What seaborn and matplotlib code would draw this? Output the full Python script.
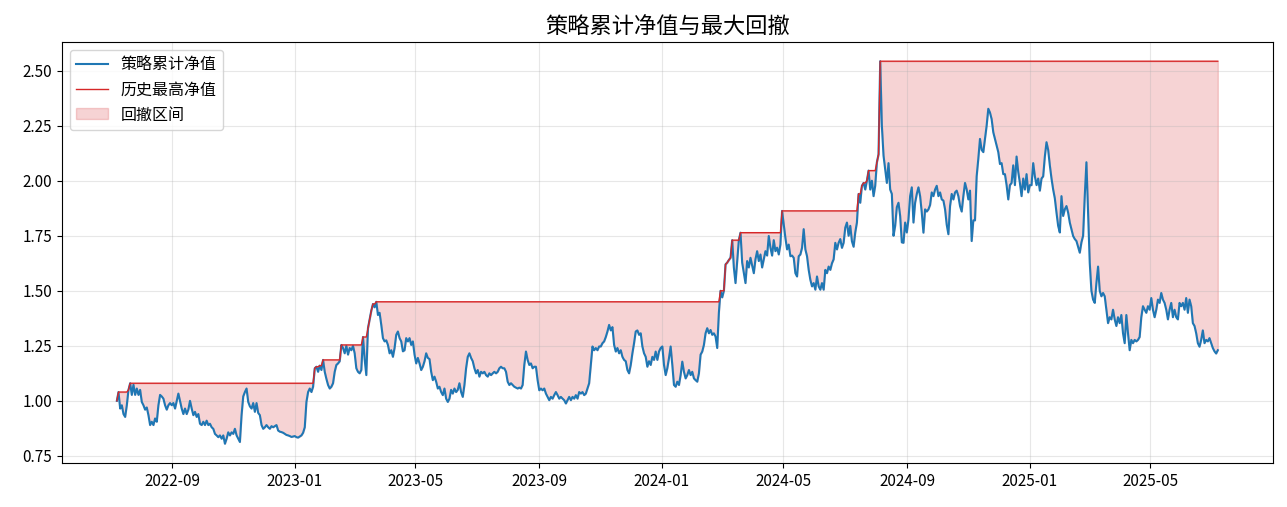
import matplotlib
matplotlib.use("Agg")
import matplotlib.pyplot as plt
import matplotlib.dates as mdates
import numpy as np
import pandas as pd
import seaborn as sns

# ---------------------------------------------------------------------
# Data: strategy NAV, one sample every ~39.7 hours
start_date = "2022-07-08"
step_hours = 39.7

nav_2022 = [
    1.00, 1.04, 0.965, 0.98, 0.94, 0.927, 0.98, 1.05, 1.08, 1.027,
    1.073, 1.027, 1.056, 1.027, 1.05, 0.995, 0.98, 0.96, 0.97, 0.935,
    0.89, 0.905, 0.89, 0.92, 0.905, 0.98, 1.027, 1.02, 1.01, 0.98,
    0.96, 0.98, 0.99, 0.98, 0.99, 0.965, 1.00, 1.033, 1.00, 0.965,
    0.94, 0.965, 0.94, 0.96, 1.00, 0.965, 0.935, 0.95, 0.927, 0.94,
    0.896, 0.89, 0.905, 0.89, 0.91, 0.89, 0.896, 0.88, 0.873, 0.85,
    0.843, 0.835, 0.843, 0.828, 0.843, 0.805, 0.828, 0.857, 0.843, 0.857,
    0.85, 0.873, 0.843, 0.828, 0.813, 0.935, 1.02, 1.04, 1.056, 0.995,
    0.975, 0.965, 0.99, 0.95, 0.99, 0.945, 0.935, 0.89, 0.873, 0.88,
    0.89, 0.88, 0.873, 0.885, 0.88, 0.885, 0.89, 0.865, 0.86, 0.858,
    0.855, 0.85, 0.845, 0.843, 0.84, 0.836, 0.838, 0.84,
]

nav_2023 = [
    0.835, 0.833, 0.838, 0.843, 0.855, 0.88, 0.995, 1.04, 1.056, 1.04,
    1.064, 1.148, 1.155, 1.132, 1.16, 1.14, 1.186, 1.132, 1.10, 1.072,
    1.056, 1.064, 1.08, 1.132, 1.163, 1.17, 1.18, 1.254, 1.24, 1.216,
    1.25, 1.21, 1.24, 1.23, 1.25, 1.216, 1.148, 1.132, 1.125, 1.14,
    1.29, 1.19, 1.117, 1.33, 1.37, 1.41, 1.44, 1.425, 1.45, 1.39,
    1.40, 1.345, 1.285, 1.27, 1.275, 1.254, 1.216, 1.23, 1.20, 1.24,
    1.30, 1.315, 1.285, 1.27, 1.225, 1.23, 1.285, 1.27, 1.285, 1.254,
    1.27, 1.21, 1.17, 1.195, 1.17, 1.14, 1.155, 1.18, 1.216, 1.195,
    1.19, 1.132, 1.094, 1.11, 1.087, 1.056, 1.064, 1.04, 1.026, 1.056,
    1.01, 0.995, 1.01, 1.05, 1.033, 1.056, 1.04, 1.05, 1.08, 1.04,
    1.018, 1.072, 1.148, 1.20, 1.216, 1.195, 1.18, 1.148, 1.125, 1.14,
    1.11, 1.132, 1.125, 1.132, 1.117, 1.11, 1.125, 1.117, 1.125, 1.132,
    1.125, 1.132, 1.148, 1.155, 1.148, 1.148, 1.132, 1.087, 1.072, 1.08,
    1.072, 1.064, 1.06, 1.056, 1.06, 1.056, 1.072, 1.163, 1.224, 1.186,
    1.163, 1.17, 1.148, 1.155, 1.155, 1.094, 1.048, 1.056, 1.048, 1.056,
    1.033, 1.018, 1.003, 1.018, 1.01, 1.026, 1.04, 1.026, 1.01, 1.018,
    1.01, 1.003, 0.988, 1.003, 1.018, 1.003, 1.018, 1.01, 1.026, 1.01,
    1.04, 1.033, 1.04, 1.026, 1.033, 1.056, 1.08, 1.163, 1.247, 1.23,
    1.24, 1.23, 1.247, 1.247, 1.262, 1.27, 1.29, 1.315, 1.345, 1.32,
    1.335, 1.254, 1.224, 1.24, 1.216, 1.23, 1.20, 1.186, 1.18, 1.14,
    1.125, 1.163, 1.216, 1.262, 1.315, 1.32, 1.30, 1.307, 1.247, 1.216,
    1.20, 1.155, 1.18, 1.163, 1.20, 1.186, 1.224, 1.186, 1.224, 1.24,
]

nav_2024 = [
    1.247, 1.163, 1.117, 1.148, 1.194, 1.247, 1.163, 1.072, 1.064, 1.087,
    1.072, 1.117, 1.178, 1.132, 1.102, 1.117, 1.14, 1.117, 1.132, 1.102,
    1.094, 1.087, 1.125, 1.21, 1.224, 1.254, 1.307, 1.33, 1.307, 1.322,
    1.30, 1.307, 1.292, 1.24, 1.40, 1.50, 1.47, 1.50, 1.62, 1.628,
    1.64, 1.65, 1.73, 1.606, 1.535, 1.635, 1.73, 1.764, 1.628, 1.58,
    1.535, 1.635, 1.606, 1.65, 1.614, 1.58, 1.643, 1.68, 1.635, 1.665,
    1.606, 1.643, 1.68, 1.66, 1.749, 1.696, 1.66, 1.73, 1.68, 1.696,
    1.665, 1.71, 1.863, 1.80, 1.74, 1.688, 1.71, 1.657, 1.66, 1.65,
    1.58, 1.565, 1.657, 1.665, 1.695, 1.78, 1.688, 1.657, 1.595, 1.55,
    1.52, 1.535, 1.505, 1.565, 1.52, 1.505, 1.535, 1.505, 1.595, 1.58,
    1.61, 1.595, 1.625, 1.643, 1.718, 1.688, 1.718, 1.735, 1.695, 1.718,
    1.787, 1.81, 1.75, 1.795, 1.725, 1.70, 1.765, 1.81, 1.94, 1.90,
    1.977, 1.99, 1.96, 2.00, 2.046, 1.96, 2.00, 1.93, 1.977, 2.084,
    2.12, 2.543, 2.25, 2.114, 2.05, 1.99, 2.08, 1.96, 1.94, 1.75,
    1.795, 1.88, 1.90, 1.84, 1.72, 1.718, 1.81, 1.765, 1.825, 1.93,
    1.97, 1.81, 1.90, 1.94, 1.97, 1.93, 1.855, 1.764, 1.87, 1.86,
    1.87, 1.89, 1.947, 1.93, 1.96, 1.977, 1.93, 1.947, 1.915, 1.91,
    1.87, 1.80, 1.757, 1.885, 1.94, 1.915, 1.947, 1.955, 1.93, 1.885,
    1.86, 1.93, 1.99, 1.96, 1.915, 1.955, 1.726, 1.82, 1.82, 2.02,
    2.10, 2.19, 2.14, 2.13, 2.19, 2.25, 2.327, 2.31, 2.28, 2.22,
    2.19, 2.16, 2.13, 2.076, 2.08, 2.03, 2.03, 1.98, 1.915, 1.98,
    1.99, 2.07, 1.98, 2.11, 2.04, 1.99, 1.93, 2.01, 1.96, 2.03,
    1.947, 1.98,
]

nav_2025 = [
    1.98, 2.08, 2.02, 1.98, 2.01, 1.955, 2.01, 2.02, 2.11, 2.175,
    2.14, 2.07, 2.01, 1.96, 1.92, 1.855, 1.795, 1.765, 1.93, 1.84,
    1.87, 1.885, 1.855, 1.81, 1.78, 1.749, 1.735, 1.726, 1.70, 1.673,
    1.72, 1.75, 1.93, 2.084, 1.85, 1.627, 1.50, 1.46, 1.445, 1.535,
    1.61, 1.50, 1.475, 1.49, 1.475, 1.414, 1.353, 1.38, 1.37, 1.414,
    1.37, 1.34, 1.38, 1.353, 1.39, 1.307, 1.262, 1.39, 1.307, 1.23,
    1.277, 1.262, 1.277, 1.27, 1.277, 1.29, 1.38, 1.43, 1.414, 1.40,
    1.43, 1.414, 1.467, 1.414, 1.38, 1.414, 1.46, 1.445, 1.49, 1.46,
    1.445, 1.414, 1.37, 1.414, 1.445, 1.38, 1.414, 1.38, 1.37, 1.445,
    1.43, 1.445, 1.414, 1.467, 1.40, 1.46, 1.43, 1.353, 1.34, 1.307,
    1.262, 1.246, 1.277, 1.32, 1.262, 1.277, 1.27, 1.285, 1.262, 1.24,
    1.225, 1.215, 1.23,
]

# ---------------------------------------------------------------------
# Build the frame: NAV, running peak (historical high)
nav = nav_2022 + nav_2023 + nav_2024 + nav_2025
df = pd.DataFrame({"净值": nav})
df["时间"] = pd.Timestamp(start_date) + pd.to_timedelta(np.arange(len(nav)) * step_hours, unit="h")
df["历史最高"] = df["净值"].cummax()

plt.rcParams["font.family"] = ["Noto Sans CJK SC", "DejaVu Sans"]
plt.rcParams["axes.unicode_minus"] = False

fig, ax = plt.subplots(figsize=(12.87, 5.07), dpi=100)
fig.subplots_adjust(left=0.048, right=0.989, top=0.917, bottom=0.087)

sns.lineplot(data=df, x="时间", y="净值", ax=ax, color="#1f77b4", linewidth=1.5, label="策略累计净值")
sns.lineplot(data=df, x="时间", y="历史最高", ax=ax, color="#d62728", linewidth=1.0, label="历史最高净值")
ax.fill_between(df["时间"], df["净值"], df["历史最高"], color="#d62728", alpha=0.2, label="回撤区间")

ax.set_title("策略累计净值与最大回撤", fontsize=16)
ax.set_xlabel("")
ax.set_ylabel("")
ax.xaxis.set_major_locator(mdates.MonthLocator(bymonth=[1, 5, 9]))
ax.xaxis.set_major_formatter(mdates.DateFormatter("%Y-%m"))
ax.tick_params(labelsize=11)
ax.grid(True, alpha=0.3)
ax.legend(loc="upper left", fontsize=11.5)

fig.savefig("out.png", dpi=100)
